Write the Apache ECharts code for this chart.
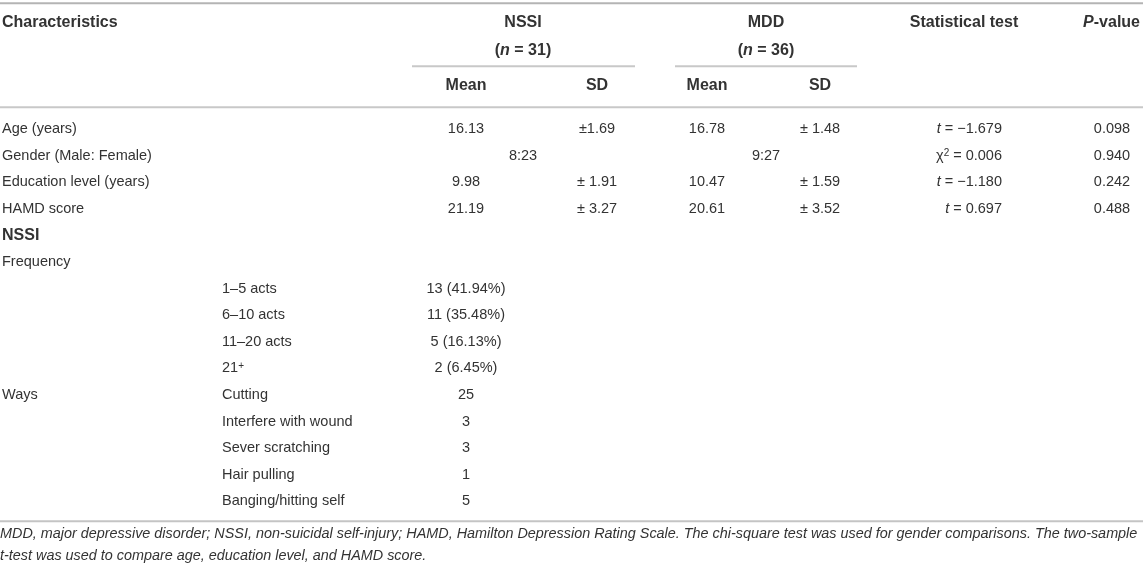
<!DOCTYPE html>
<html>
<head>
<meta charset="utf-8">
<script src="https://cdn.jsdelivr.net/npm/echarts@6/dist/echarts.min.js"></script>
<style>
html,body{margin:0;padding:0;background:#fff;}
#chart{width:1143px;height:568px;}
</style>
</head>
<body>
<div id="chart"></div>
<script>
// ---------------- data ----------------
const summaryLabels = ['Age (years)', 'Gender (Male: Female)', 'Education level (years)', 'HAMD score'];
const nssiMean = ['16.13', null, '9.98', '21.19'];
const nssiSD = ['±1.69', null, '± 1.91', '± 3.27'];
const mddMean = ['16.78', null, '10.47', '20.61'];
const mddSD = ['± 1.48', null, '± 1.59', '± 3.52'];
const genderRatio = ['8:23', '9:27'];           // NSSI, MDD
const testSymbol = ['t', 'χ2', 't', 't'];
const testValue = ['−1.679', '0.006', '−1.180', '0.697'];
const pValues = ['0.098', '0.940', '0.242', '0.488'];

const freqCategories = ['1–5 acts', '6–10 acts', '11–20 acts', '21+'];
const freqCounts = [13, 11, 5, 2];
const freqPercents = ['41.94', '35.48', '16.13', '6.45'];
const waysCategories = ['Cutting', 'Interfere with wound', 'Sever scratching', 'Hair pulling', 'Banging/hitting self'];
const waysCounts = [25, 3, 3, 1, 5];

const groupNames = ['NSSI', 'MDD'];
const groupN = [31, 36];
const footnoteLines = [
  'MDD, major depressive disorder; NSSI, non-suicidal self-injury; HAMD, Hamilton Depression Rating Scale. The chi-square test was used for gender comparisons. The two-sample',
  't-test was used to compare age, education level, and HAMD score.'
];

// ---------------- layout ----------------
const FONT = '"Liberation Sans", Arial, Helvetica, sans-serif';
const COLOR = '#333333';
const SIZE = 14.5;
const BSIZE = 16;
const COL = {label: 2, sub: 222, nssiMean: 466, nssiSD: 597, nssiGroup: 523,
             mddMean: 707, mddSD: 820, mddGroup: 766, test: 1002, testHead: 964, p: 1112, pHead: 1140};
const ROW = {head1: -4.0, head2: -2.95, head3: -1.64, lineTop: -4.74, lineSub: -2.37,
             lineHead: -0.83, lineBottom: 14.75, foot1: 15.24, foot2: 16.07};

const cells = [];
function cell(x, row, text, o) {
  o = o || {};
  cells.push({x: x, row: row, text: text, align: o.align || 'left', bold: !!o.bold,
              italic: !!o.italic, size: o.size || (o.bold ? BSIZE : SIZE)});
}
// header
cell(COL.label, ROW.head1, 'Characteristics', {bold: true});
[COL.nssiGroup, COL.mddGroup].forEach(function (x, g) {
  cell(x, ROW.head1, groupNames[g], {bold: true, align: 'center'});
  cell(x, ROW.head2, '({i|n} = ' + groupN[g] + ')', {bold: true, align: 'center'});
});
cell(COL.testHead, ROW.head1, 'Statistical test', {bold: true, align: 'center'});
cell(COL.pHead, ROW.head1, '{i|P}-value', {bold: true, align: 'right'});
cell(COL.nssiMean, ROW.head3, 'Mean', {bold: true, align: 'center'});
cell(COL.nssiSD, ROW.head3, 'SD', {bold: true, align: 'center'});
cell(COL.mddMean, ROW.head3, 'Mean', {bold: true, align: 'center'});
cell(COL.mddSD, ROW.head3, 'SD', {bold: true, align: 'center'});

// summary rows
summaryLabels.forEach(function (lab, i) {
  cell(COL.label, i, lab);
  if (nssiMean[i] !== null) {
    cell(COL.nssiMean, i, nssiMean[i], {align: 'center'});
    cell(COL.nssiSD, i, nssiSD[i], {align: 'center'});
    cell(COL.mddMean, i, mddMean[i], {align: 'center'});
    cell(COL.mddSD, i, mddSD[i], {align: 'center'});
  } else {
    cell(COL.nssiGroup, i, genderRatio[0], {align: 'center'});
    cell(COL.mddGroup, i, genderRatio[1], {align: 'center'});
  }
  const sym = testSymbol[i] === 'χ2' ? 'χ{s|2}' : '{i|' + testSymbol[i] + '}';
  cell(COL.test, i, sym + ' = ' + testValue[i], {align: 'right'});
  cell(COL.p, i, pValues[i], {align: 'center'});
});
// NSSI section
cell(COL.label, 4, 'NSSI', {bold: true});
cell(COL.label, 5, 'Frequency');
freqCategories.forEach(function (c, k) {
  const r = 6 + k;
  cell(COL.sub, r, c === '21+' ? '21{s|+}' : c);
  cell(COL.nssiMean, r, freqCounts[k] + ' (' + freqPercents[k] + '%)', {align: 'center'});
});
cell(COL.label, 10, 'Ways');
waysCategories.forEach(function (c, k) {
  const r = 10 + k;
  cell(COL.sub, r, c);
  cell(COL.nssiMean, r, String(waysCounts[k]), {align: 'center'});
});
footnoteLines.forEach(function (t, k) {
  cell(0, k === 0 ? ROW.foot1 : ROW.foot2, t, {italic: true, size: 14.4});
});

const rules = [
  {x1: 0, x2: 1143, row: ROW.lineTop, w: 2, c: '#b4b4b4'},
  {x1: 412, x2: 635, row: ROW.lineSub, w: 2, c: '#c8c8c8'},
  {x1: 675, x2: 857, row: ROW.lineSub, w: 2, c: '#c8c8c8'},
  {x1: 0, x2: 1143, row: ROW.lineHead, w: 2, c: '#c8c8c8'},
  {x1: 0, x2: 1143, row: ROW.lineBottom, w: 2, c: '#c4c4c4'}
];

function richFor(c) {
  const base = {fontFamily: FONT, fontSize: c.size, fontWeight: c.bold ? 'bold' : 'normal', fill: COLOR};
  return {
    i: Object.assign({}, base, {fontStyle: 'italic'}),
    s: Object.assign({}, base, {fontSize: Math.round(c.size * 0.7), verticalAlign: 'top'})
  };
}

const chart = echarts.init(document.getElementById('chart'), null, {renderer: 'canvas'});
chart.setOption({
  animation: false,
  backgroundColor: '#ffffff',
  grid: {left: 0, right: 0, top: 0, bottom: 0},
  xAxis: {type: 'value', min: 0, max: 1143, show: false},
  yAxis: {type: 'value', min: -129.3 / 26.57, max: (568 - 129.3) / 26.57, inverse: true, show: false},
  series: [
    {
      type: 'custom', silent: true, clip: false,
      data: rules.map(function (r) { return [r.x1, r.row, r.x2]; }),
      renderItem: function (params, api) {
        const r = rules[params.dataIndex];
        const a = api.coord([r.x1, r.row]);
        const b = api.coord([r.x2, r.row]);
        return {type: 'line', shape: {x1: a[0], y1: a[1], x2: b[0], y2: b[1]},
                style: {stroke: r.c, lineWidth: r.w}};
      }
    },
    {
      type: 'custom', silent: true, clip: false,
      data: cells.map(function (c) { return [c.x, c.row]; }),
      renderItem: function (params, api) {
        const c = cells[params.dataIndex];
        const p = api.coord([c.x, c.row]);
        return {
          type: 'text', x: p[0], y: p[1],
          style: {
            text: c.text, rich: richFor(c),
            fontFamily: FONT, fontSize: c.size, fontWeight: c.bold ? 'bold' : 'normal',
            fontStyle: c.italic ? 'italic' : 'normal', fill: COLOR,
            align: c.align, textAlign: c.align, verticalAlign: 'middle', textVerticalAlign: 'middle'
          }
        };
      }
    }
  ]
});
</script>
</body>
</html>
